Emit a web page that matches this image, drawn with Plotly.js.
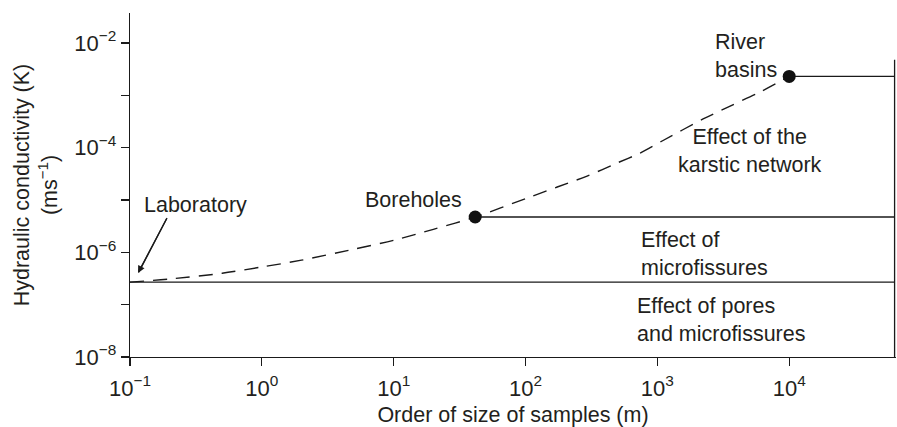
<!DOCTYPE html>
<html>
<head>
<meta charset="utf-8">
<script src="https://cdn.plot.ly/plotly-3.0.1.min.js"></script>
<style>html,body{margin:0;padding:0;background:#fff;}#chart{width:897px;height:427px;}</style>
</head>
<body>
<div id="chart"></div>
<script>
// Dashed trend curve: sample size (m) vs hydraulic conductivity K (m/s)
const curveSize = [0.1, 0.2, 0.5, 1, 2, 5, 10, 20, 41.5, 103, 174, 293, 495, 741, 1087, 2223, 3565, 5821, 8551, 10000];
const curveK = [2.7e-7, 3.09e-7, 3.98e-7, 5.25e-7, 7.08e-7, 1.15e-6, 1.70e-6, 2.75e-6, 4.73e-6, 1.09e-5, 1.77e-5, 2.87e-5, 5.09e-5, 7.9e-5, 1.34e-4, 3.53e-4, 6.25e-4, 1.11e-3, 1.85e-3, 2.3e-3];

// Reference scales (laboratory, boreholes, river basins)
const refNames = ["Laboratory", "Boreholes", "River basins"];
const refSize = [0.1, 41.5, 10000];
const refK = [2.7e-7, 4.73e-6, 2.3e-3];

// Right boundary of the diagram
const boundarySize = 63000;
const boundaryK = [1e-8, 4.8e-3];

// Tick labels
const xTickVals = [0.1, 1, 10, 100, 1000, 10000];
const xTickText = ["10<sup>−1</sup>", "10<sup>0</sup>", "10<sup>1</sup>", "10<sup>2</sup>", "10<sup>3</sup>", "10<sup>4</sup>"];
const yTickVals = [1e-8, 1e-7, 1e-6, 1e-5, 1e-4, 1e-3, 1e-2];
const yTickText = ["10<sup>−8</sup>", "", "10<sup>−6</sup>", "", "10<sup>−4</sup>", "", "10<sup>−2</sup>"];

const FONT = "Liberation Sans, Arial, Helvetica, sans-serif";
const INK = "#231f20";

const traces = [];
// Horizontal level lines from each reference point to the boundary
refSize.forEach((s, i) => {
  traces.push({
    x: [s, boundarySize], y: [refK[i], refK[i]],
    mode: "lines", type: "scatter",
    line: {color: "#1a1a1a", width: 1.3},
    hoverinfo: "skip", showlegend: false
  });
});
// Right boundary
traces.push({
  x: [boundarySize, boundarySize], y: boundaryK,
  mode: "lines", type: "scatter",
  line: {color: "#1a1a1a", width: 1.3},
  hoverinfo: "skip", showlegend: false
});
// Dashed curve
traces.push({
  x: curveSize, y: curveK,
  mode: "lines", type: "scatter",
  line: {color: "#1a1a1a", width: 1.4, dash: "14px,9px", shape: "spline", smoothing: 0.8},
  showlegend: false
});
// Points (boreholes, river basins)
traces.push({
  x: refSize.slice(1), y: refK.slice(1), text: refNames.slice(1),
  mode: "markers", type: "scatter",
  marker: {color: "#111", size: 13},
  cliponaxis: false, showlegend: false
});

const annFont = {family: FONT, size: 21.5, color: INK};
const annotations = [
  {x: 3.423, y: -2.25, xref: "x", yref: "y", text: "River<br>basins", showarrow: false, xanchor: "left", yanchor: "middle", align: "left", font: annFont},
  {x: 3.704, y: -4.06, xref: "x", yref: "y", text: "Effect of the<br>karstic network", showarrow: false, xanchor: "center", yanchor: "middle", align: "center", font: annFont},
  {x: 1.147, y: -5.0, xref: "x", yref: "y", text: "Boreholes", showarrow: false, xanchor: "center", yanchor: "middle", font: annFont},
  {x: 2.862, y: -6.03, xref: "x", yref: "y", text: "Effect of<br>microfissures", showarrow: false, xanchor: "left", yanchor: "middle", align: "left", font: annFont},
  {x: 2.832, y: -7.29, xref: "x", yref: "y", text: "Effect of pores<br>and microfissures", showarrow: false, xanchor: "left", yanchor: "middle", align: "left", font: annFont},
  {x: -0.91, y: -5.10, xref: "x", yref: "y", text: "Laboratory", showarrow: false, xanchor: "left", yanchor: "middle", font: annFont},
  {x: 0.01044, y: 0.2442, xref: "paper", yref: "paper", text: "", showarrow: true,
   axref: "pixel", ayref: "pixel", ax: 29, ay: -55,
   font: {size: 1}, borderpad: 0,
   arrowhead: 2, arrowsize: 1.1, arrowwidth: 1.3, arrowcolor: "#1a1a1a", standoff: 0}
];

// Shaft of the "Laboratory" pointer
const shapes = [
  {type: "line", xref: "paper", yref: "paper", x0: 0.0483, y0: 0.404, x1: 0.0115, y1: 0.2465,
   line: {color: "#1a1a1a", width: 1.3}}
];

const layout = {
  width: 897, height: 427,
  margin: {l: 130, r: 1, t: 13, b: 70},
  paper_bgcolor: "#fff", plot_bgcolor: "#fff",
  font: {family: FONT, color: INK, size: 21},
  showlegend: false,
  xaxis: {
    type: "log", range: [-1, 4.81],
    showline: true, linecolor: "#1a1a1a", linewidth: 1.3, mirror: false,
    showgrid: false, zeroline: false,
    ticks: "outside", ticklen: 8, tickwidth: 1.3, tickcolor: "#1a1a1a",
    tickmode: "array", tickvals: xTickVals, ticktext: xTickText,
    ticklabelstandoff: 3,
    tickfont: {family: FONT, size: 22, color: INK},
    title: {text: "Order of size of samples (m)", font: {family: FONT, size: 21.5, color: INK}, standoff: 15}
  },
  yaxis: {
    type: "log", range: [-8, -1.427],
    showline: true, linecolor: "#1a1a1a", linewidth: 1.3, mirror: false,
    showgrid: false, zeroline: false,
    ticks: "outside", ticklen: 8, tickwidth: 1.3, tickcolor: "#1a1a1a",
    tickmode: "array", tickvals: yTickVals, ticktext: yTickText,
    tickfont: {family: FONT, size: 22, color: INK},
    title: {text: "Hydraulic conductivity (K)<br>(ms<sup>−1</sup>)", font: {family: FONT, size: 21.5, color: INK}, standoff: 10}
  },
  shapes: shapes,
  annotations: annotations
};

Plotly.newPlot("chart", traces, layout, {staticPlot: true, displayModeBar: false});
</script>
</body>
</html>
